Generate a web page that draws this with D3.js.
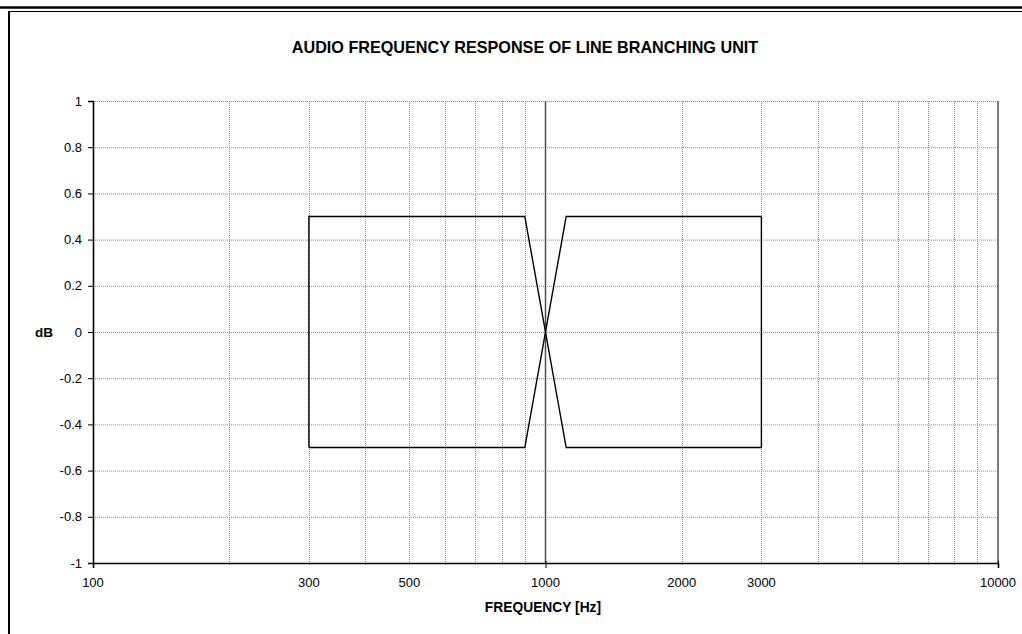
<!DOCTYPE html>
<html>
<head>
<meta charset="utf-8">
<script src="https://cdn.jsdelivr.net/npm/d3@7"></script>
<style>
  html, body { margin: 0; padding: 0; background: #fff; }
  svg { display: block; font-family: "Liberation Sans", Arial, sans-serif; }
</style>
</head>
<body>
<svg id="chart" width="1022" height="634"></svg>
<script>
// Tolerance mask of the line branching unit: two limit traces
const upperFreq = [300, 300, 900, 1111, 3000, 3000];
const upperDb   = [-0.5, 0.5, 0.5, -0.5, -0.5, 0.5];
const lowerFreq = [300, 900, 1111, 3000];
const lowerDb   = [-0.5, -0.5, 0.5, 0.5];

const xTickLabels = [100, 300, 500, 1000, 2000, 3000, 10000];
const xMajor = [100, 1000, 10000];
const xMinor = [200, 300, 400, 500, 600, 700, 800, 900, 2000, 3000, 4000, 5000, 6000, 7000, 8000, 9000];
const yTicks = [-1, -0.8, -0.6, -0.4, -0.2, 0, 0.2, 0.4, 0.6, 0.8, 1];

const titleText = "AUDIO FREQUENCY RESPONSE OF LINE BRANCHING UNIT";
const xTitle = "FREQUENCY [Hz]";
const yTitle = "dB";

const svg = d3.select("#chart");
const plot = { left: 93, right: 998, top: 101, bottom: 563 };

const x = d3.scaleLog().domain([100, 10000]).range([plot.left, plot.right]);
const y = d3.scaleLinear().domain([-1, 1]).range([plot.bottom, plot.top]);

// outer frame: double rule at top, single rule at left
svg.append("line").attr("x1", 0).attr("x2", 1022).attr("y1", 7.5).attr("y2", 7.5)
  .attr("stroke", "#000").attr("stroke-width", 2.5);
svg.append("line").attr("x1", 8).attr("x2", 1022).attr("y1", 11.5).attr("y2", 11.5)
  .attr("stroke", "#000").attr("stroke-width", 1.2);
svg.append("line").attr("x1", 9).attr("x2", 9).attr("y1", 11).attr("y2", 634)
  .attr("stroke", "#000").attr("stroke-width", 2);

// horizontal grid
svg.append("g").selectAll("line").data(yTicks.filter(d => d > -1)).join("line")
  .attr("x1", plot.left).attr("x2", plot.right)
  .attr("y1", d => y(d) + 0.5).attr("y2", d => y(d) + 0.5)
  .attr("stroke", "#8a8a8a").attr("stroke-width", 1).attr("stroke-dasharray", "1,1");

// vertical minor grid
svg.append("g").selectAll("line").data(xMinor).join("line")
  .attr("x1", d => Math.round(x(d)) + 0.5).attr("x2", d => Math.round(x(d)) + 0.5)
  .attr("y1", plot.top).attr("y2", plot.bottom)
  .attr("stroke", "#8a8a8a").attr("stroke-width", 1).attr("stroke-dasharray", "1,1");

// vertical major grid
svg.append("g").selectAll("line").data(xMajor.filter(d => d > 100)).join("line")
  .attr("x1", d => x(d)).attr("x2", d => x(d))
  .attr("y1", plot.top).attr("y2", plot.bottom)
  .attr("stroke", "#505050").attr("stroke-width", 1.5);

// axes
const yAxis = d3.axisLeft(y).tickValues(yTicks).tickSize(5).tickPadding(6)
  .tickFormat(d => String(+d.toFixed(1)));
const gy = svg.append("g").attr("transform", `translate(${plot.left},0)`).call(yAxis);
gy.select(".domain").attr("stroke-width", 1.6);

const xAxis = d3.axisBottom(x).tickValues(xMajor).tickSize(5).tickFormat("");
const gx = svg.append("g").attr("transform", `translate(0,${plot.bottom})`).call(xAxis);
gx.select(".domain").attr("stroke-width", 1.6);
gx.selectAll(".tick line").attr("y1", -2);

svg.selectAll(".tick text").attr("font-size", 13).attr("fill", "#000")
  .attr("font-family", "'Liberation Sans', Arial, sans-serif");

svg.append("g").selectAll("text").data(xTickLabels).join("text")
  .attr("x", d => x(d)).attr("y", 587)
  .attr("text-anchor", "middle").attr("font-size", 13).text(d => d);

// data traces
const line = d3.line().x(d => x(d[0])).y(d => y(d[1]));
[[upperFreq, upperDb], [lowerFreq, lowerDb]].forEach(([f, v]) => {
  svg.append("path").datum(f.map((d, i) => [d, v[i]]))
    .attr("d", line).attr("fill", "none").attr("stroke", "#000").attr("stroke-width", 1.4);
});

// titles
svg.append("text").attr("x", 525).attr("y", 53).attr("text-anchor", "middle")
  .attr("font-size", 16.2).attr("font-weight", "bold").text(titleText);
svg.append("text").attr("x", 543).attr("y", 612).attr("text-anchor", "middle")
  .attr("font-size", 13.8).attr("font-weight", "bold").text(xTitle);
svg.append("text").attr("x", 35).attr("y", 337)
  .attr("font-size", 13.5).attr("font-weight", "bold").text(yTitle);
</script>
</body>
</html>
